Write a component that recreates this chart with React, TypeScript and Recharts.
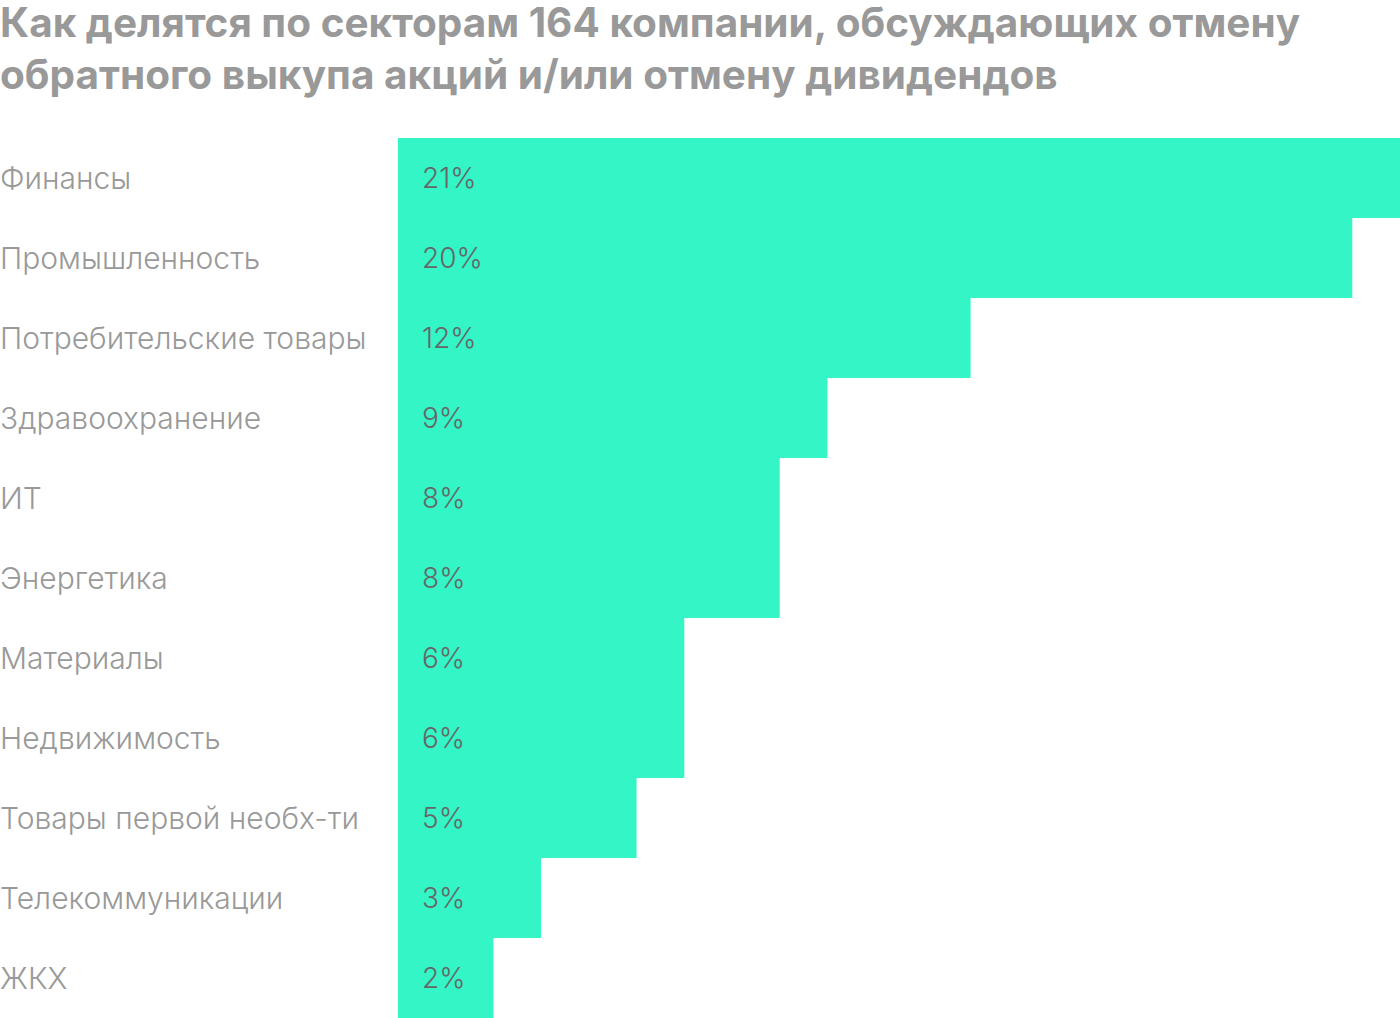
import { BarChart, Bar, XAxis, YAxis, LabelList } from "recharts";

const sectors = [
  "Финансы",
  "Промышленность",
  "Потребительские товары",
  "Здравоохранение",
  "ИТ",
  "Энергетика",
  "Материалы",
  "Недвижимость",
  "Товары первой необх-ти",
  "Телекоммуникации",
  "ЖКХ",
];
const shares = [21, 20, 12, 9, 8, 8, 6, 6, 5, 3, 2];

const data = sectors.map((name, i) => ({ name, share: shares[i] }));

const FONT = "Inter, Roboto, sans-serif";

function SectorTick({ y, payload }: any) {
  return (
    <text
      x={0}
      y={y}
      dominantBaseline="central"
      textAnchor="start"
      fill="#999999"
      fontSize={30}
      fontWeight={300}
      fontFamily={FONT}
    >
      {payload.value}
    </text>
  );
}

function ValueLabel({ x, y, height, value }: any) {
  return (
    <text
      x={x + 24}
      y={y + height / 2}
      dominantBaseline="central"
      fill="#666666"
      fontSize={28}
      fontWeight={300}
      fontFamily={FONT}
    >
      {value}%
    </text>
  );
}

export default function App() {
  return (
    <div style={{ position: "absolute", left: 0, top: 0, width: 1400, height: 1018, background: "#fff" }}>
      <div
        style={{
          fontFamily: FONT,
          fontWeight: 700,
          fontSize: 40.5,
          lineHeight: "52px",
          color: "#999999",
          position: "absolute",
          left: 0,
          top: -3,
          width: 1400,
          whiteSpace: "nowrap",
        }}
      >
        Как делятся по секторам 164 компании, обсуждающих отмену
        <br />
        обратного выкупа акций и/или отмену дивидендов
      </div>
      <div style={{ position: "absolute", left: 0, top: 138 }}>
        <BarChart
          width={1400}
          height={880}
          data={data}
          layout="vertical"
          margin={{ top: 0, right: 0, bottom: 0, left: 0 }}
          barCategoryGap={0}
        >
          <XAxis type="number" domain={[0, 21]} hide />
          <YAxis
            type="category"
            dataKey="name"
            width={398}
            axisLine={false}
            tickLine={false}
            tick={<SectorTick />}
            interval={0}
          />
          <Bar dataKey="share" fill="#33f5c5" isAnimationActive={false}>
            <LabelList dataKey="share" content={<ValueLabel />} />
          </Bar>
        </BarChart>
      </div>
    </div>
  );
}
